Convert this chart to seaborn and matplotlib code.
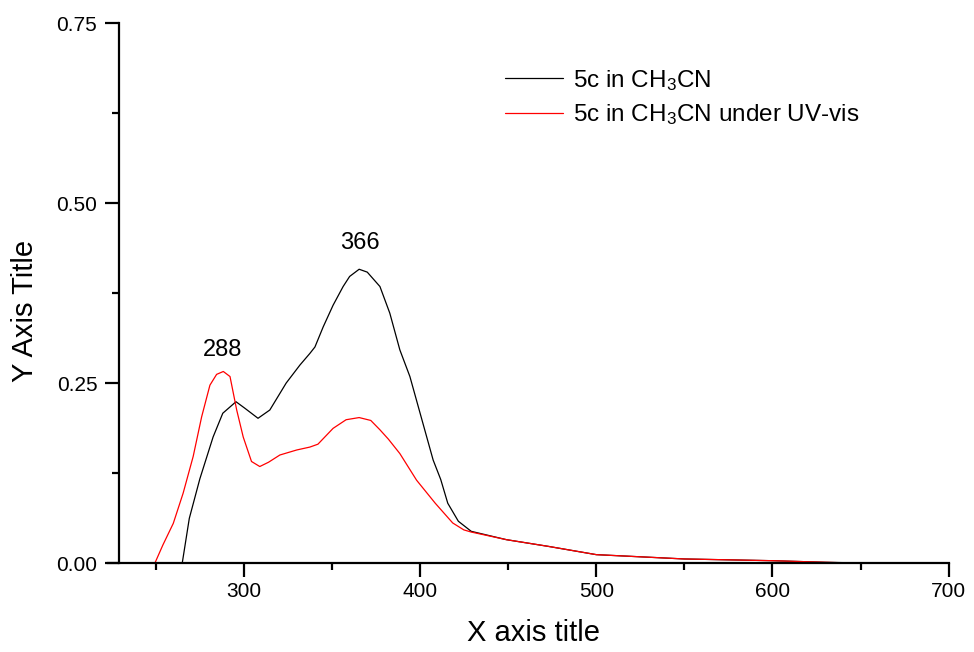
import pandas as pd
import seaborn as sns
import matplotlib.pyplot as plt
from matplotlib.ticker import MultipleLocator, FixedLocator


# absorbance spectra (wavelength in nm)
wl_black = [265, 269, 275, 282.5, 288, 295.5, 300.5, 308, 314.7, 324, 331.8, 337.4, 340.3, 345,
            350.6, 356.3, 360, 365.4, 370, 377.2, 382.8, 388.5, 394.2, 400, 407.4, 411.7, 415.7,
            421.7, 429, 449, 473, 500, 550, 600, 630, 650]
abs_black = [0, 0.062, 0.117, 0.175, 0.208, 0.224, 0.215, 0.201, 0.2125, 0.25, 0.275, 0.291, 0.300, 0.328,
             0.358, 0.384, 0.398, 0.408, 0.404, 0.384, 0.347, 0.296, 0.259, 0.208, 0.143, 0.116, 0.083,
             0.058, 0.044, 0.0324, 0.023, 0.0116, 0.0056, 0.0032, 0.001, 0]

wl_red = [249.5, 254, 259.9, 265.5, 271.2, 276, 280.7, 284.5, 288.3, 292.1, 295.9, 299.6, 304.3, 309,
          314, 320.4, 330, 337.4, 342, 350.6, 358, 365.4, 372, 377.2, 382, 388.5, 398, 408.6, 418.5,
          424.8, 429, 449, 473, 500, 550, 600, 630, 645]
abs_red = [0, 0.025, 0.055, 0.097, 0.148, 0.203, 0.247, 0.262, 0.266, 0.259, 0.2125, 0.175, 0.141, 0.134,
           0.14, 0.15, 0.157, 0.161, 0.165, 0.187, 0.199, 0.202, 0.198, 0.185, 0.172, 0.152, 0.115, 0.083,
           0.0556, 0.046, 0.043, 0.0324, 0.023, 0.0116, 0.0056, 0.0032, 0.001, 0]

lbl_black = "5c in CH$_3$CN"
lbl_red = "5c in CH$_3$CN under UV-vis"
# peak labels: wavelength, height of the label centre, text
peak_x = [288, 366]
peak_y = [0.296, 0.444]
peak_txt = ["288", "366"]

df = pd.concat([
    pd.DataFrame({"wl": wl_black, "A": abs_black, "sample": lbl_black}),
    pd.DataFrame({"wl": wl_red, "A": abs_red, "sample": lbl_red}),
])

sns.set_style("ticks", {"axes.edgecolor": "black", "text.color": "black",
                        "axes.labelcolor": "black", "xtick.color": "black", "ytick.color": "black"})
plt.rcParams['font.family'] = ['Liberation Sans', 'DejaVu Sans']
plt.rcParams['mathtext.fontset'] = 'custom'
plt.rcParams['mathtext.rm'] = 'Liberation Sans'
plt.rcParams['mathtext.it'] = 'Liberation Sans:italic'

fig = plt.figure(figsize=(9.74, 6.52), dpi=100)
ax = fig.add_axes([0.122, 0.1365, 0.852, 0.8282])

sns.lineplot(data=df, x="wl", y="A", hue="sample", sort=False,
             palette={lbl_black: "black", lbl_red: "red"}, linewidth=0.9, ax=ax)

ax.set_xlim(229, 700)
ax.set_ylim(0, 0.75)
ax.xaxis.set_major_locator(FixedLocator([300, 400, 500, 600, 700]))
ax.xaxis.set_minor_locator(MultipleLocator(50))
ax.yaxis.set_major_locator(MultipleLocator(0.25))
ax.yaxis.set_minor_locator(MultipleLocator(0.125))
ax.yaxis.set_major_formatter(plt.FormatStrFormatter('%.2f'))

for s in ["top", "right"]:
    ax.spines[s].set_visible(False)
for s in ["left", "bottom"]:
    ax.spines[s].set_linewidth(1.6)
ax.spines["bottom"].set_bounds(222.8, 700)
ax.tick_params(which="major", length=10, width=1.6, labelsize=15, direction="out")
ax.tick_params(which="minor", length=5, width=1.6, direction="out")
ax.tick_params(axis="x", which="major", pad=4)
ax.tick_params(axis="y", which="major", pad=5.5)

ax.set_xlabel("X axis title", fontsize=21)
ax.set_ylabel("Y Axis Title", fontsize=21)
ax.xaxis.set_label_coords(0.5, -0.1046)
ax.yaxis.set_label_coords(-0.0964, 0.4676)

for x, y, t in zip(peak_x, peak_y, peak_txt):
    ax.text(x, y, t, ha="center", va="center", fontsize=17)

ax.legend(loc="upper left", bbox_to_anchor=(0.465, 0.917), frameon=False,
          fontsize=17.5, handlelength=2.39, handletextpad=0.41, borderpad=0,
          borderaxespad=0, labelspacing=0.4)

fig.savefig("out.png", dpi=100)
